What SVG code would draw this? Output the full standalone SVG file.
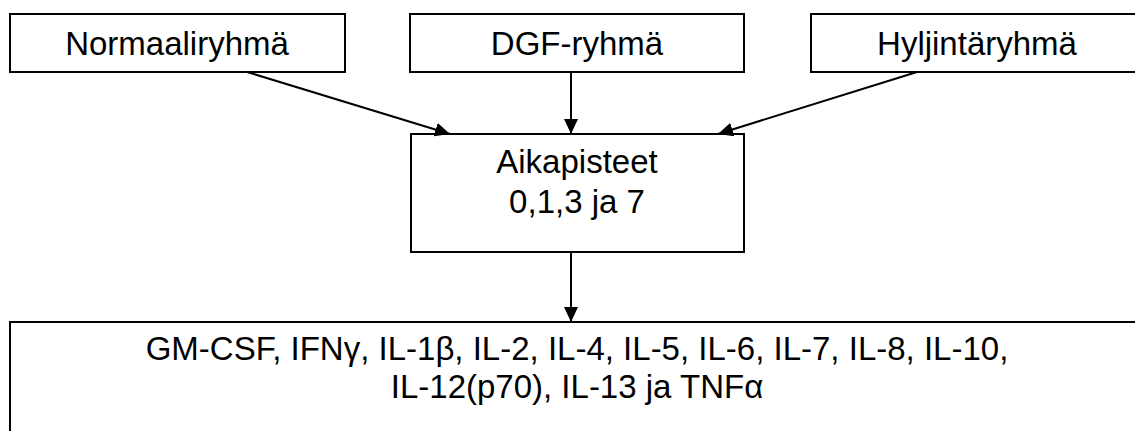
<svg xmlns="http://www.w3.org/2000/svg" width="1135" height="431" viewBox="0 0 1135 431">
<style>
.box{fill:#fff;stroke:#000;stroke-width:2}
.t{font-family:"Liberation Sans",Arial,sans-serif;font-size:33px;fill:#000;text-anchor:middle}
.c{stroke:#000;stroke-width:2;fill:none;marker-end:url(#ah)}
</style>
<defs>
<marker id="ah" markerUnits="userSpaceOnUse" markerWidth="16" markerHeight="14" refX="15" refY="7" orient="auto">
<path d="M0,0 L15,7 L0,14 Z" fill="#000"/>
</marker>
</defs>
<rect width="1135" height="431" fill="#fff"/>
<g id="n-normaali"><rect class="box" x="10" y="14" width="335" height="58"/><text class="t" x="177" y="55">Normaaliryhmä</text></g>
<g id="n-dgf"><rect class="box" x="410" y="14" width="334" height="58"/><text class="t" x="577" y="55">DGF-ryhmä</text></g>
<g id="n-hyljinta"><rect class="box" x="811" y="14" width="333" height="58"/><text class="t" x="977" y="55">Hyljintäryhmä</text></g>
<g id="n-aika"><rect class="box" x="411" y="134" width="333" height="118"/><text class="t" x="577" y="173">Aikapisteet</text><text class="t" x="577" y="213">0,1,3 ja 7</text></g>
<g id="n-cyto"><rect class="box" x="10" y="322" width="1134" height="120"/><text class="t" x="577" y="360">GM-CSF, IFNγ, IL-1β, IL-2, IL-4, IL-5, IL-6, IL-7, IL-8, IL-10, </text><text class="t" x="577" y="398">IL-12(p70), IL-13 ja TNFα</text></g>
<g id="connectors">
<line class="c" x1="247" y1="72" x2="450" y2="134"/>
<line class="c" x1="571" y1="72" x2="571" y2="134"/>
<line class="c" x1="917" y1="72" x2="718" y2="134"/>
<line class="c" x1="571" y1="252" x2="571" y2="322"/>
</g>
</svg>
